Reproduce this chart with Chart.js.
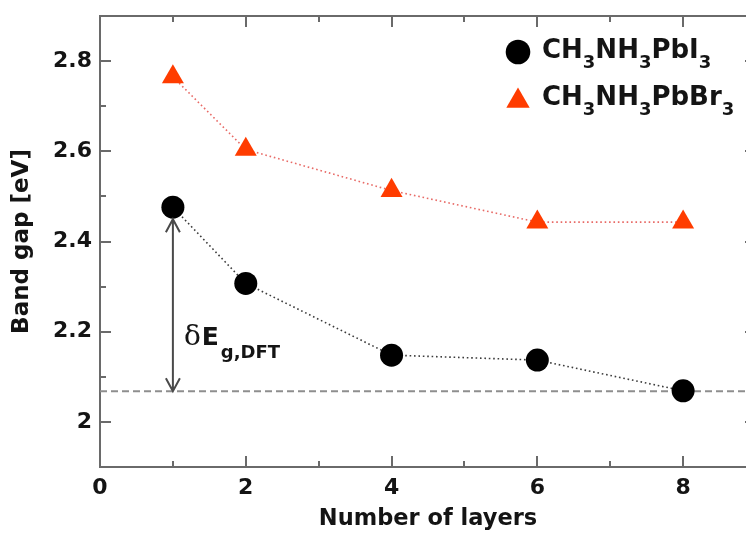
<!DOCTYPE html>
<html><head><meta charset="utf-8">
<script src="https://cdn.jsdelivr.net/npm/chart.js@4.4.1/dist/chart.umd.min.js"></script>
<style>
html,body{margin:0;padding:0;background:#fff;overflow:hidden;}
#wrap{position:relative;width:760px;height:535px;}
</style></head><body>
<div id="wrap"><canvas id="c" width="760" height="535"></canvas></div>
<script>
// ---- data ----
const layers = [1, 2, 4, 6, 8];
const gapPbI3 = [2.476, 2.307, 2.148, 2.137, 2.069];
const gapPbBr3 = [2.765, 2.604, 2.513, 2.443, 2.443];
const bulkSpan = [0, 9];
const bulkLevel = [2.068, 2.068];
const xTickLabels = ['0', '2', '4', '6', '8'];
const yTickLabels = ['2', '2.2', '2.4', '2.6', '2.8'];
const seriesNames = ['CH₃NH₃PbI₃', 'CH₃NH₃PbBr₃'];
const gapLabel = ['δ', 'E', 'g,DFT'];

// ---- styles ----
const FONT = '"DejaVu Sans", "Liberation Sans", Arial, sans-serif';
const axisColor = '#6a6a6a';
const textColor = '#141414';

const frameTicks = {
  id: 'frameTicks',
  beforeDatasetsDraw(chart) {
    const {ctx, chartArea: a, scales: {x, y}} = chart;
    ctx.save();
    ctx.strokeStyle = axisColor;
    ctx.lineWidth = 2;
    const seg = (x1, y1, x2, y2) => { ctx.beginPath(); ctx.moveTo(x1, y1); ctx.lineTo(x2, y2); ctx.stroke(); };
    x.ticks.forEach(t => {
      const p = Math.round(x.getPixelForValue(t.value));
      const L = t.label ? 11 : 6;
      seg(p, a.bottom, p, a.bottom - L);
      seg(p, a.top, p, a.top + L);
    });
    y.ticks.forEach(t => {
      const p = Math.round(y.getPixelForValue(t.value));
      const L = t.label ? 11 : 6;
      seg(a.left, p, a.left + L, p);
      seg(a.right, p, a.right - L, p);
    });
    ctx.restore();
  }
};

const gapArrow = {
  id: 'gapArrow',
  afterDatasetsDraw(chart) {
    const {ctx, scales: {x, y}} = chart;
    const r = chart.data.datasets[0].pointRadius;
    const xp = x.getPixelForValue(layers[0]);
    const yTop = y.getPixelForValue(gapPbI3[0]) + r + 0.5;
    const yBot = y.getPixelForValue(bulkLevel[0]);
    ctx.save();
    ctx.strokeStyle = '#4a4a4a';
    ctx.lineWidth = 2;
    ctx.beginPath();
    ctx.moveTo(xp, yTop); ctx.lineTo(xp, yBot);
    ctx.moveTo(xp - 7, yTop + 13); ctx.lineTo(xp, yTop); ctx.lineTo(xp + 7, yTop + 13);
    ctx.moveTo(xp - 7, yBot - 13); ctx.lineTo(xp, yBot); ctx.lineTo(xp + 7, yBot - 13);
    ctx.stroke();
    // label
    let tx = xp + 11;
    const base = yBot - 46;
    ctx.fillStyle = textColor;
    ctx.textBaseline = 'alphabetic';
    ctx.textAlign = 'left';
    ctx.font = '28px "DejaVu Serif", "Liberation Serif", serif';
    ctx.fillText(gapLabel[0], tx, base);
    tx += ctx.measureText(gapLabel[0]).width + 1;
    ctx.font = 'bold 25px ' + FONT;
    ctx.fillText(gapLabel[1], tx, base);
    tx += ctx.measureText(gapLabel[1]).width + 2;
    ctx.font = 'bold 18px ' + FONT;
    ctx.fillText(gapLabel[2], tx, base + 13);
    ctx.restore();
  }
};

const subLegend = {
  id: 'subLegend',
  afterDatasetsDraw(chart) {
    const {ctx, chartArea: a} = chart;
    const subs = '₀₁₂₃₄₅₆₇₈₉';
    const rows = [0, 1];
    ctx.save();
    rows.forEach((di, k) => {
      const ds = chart.data.datasets[di];
      const base = a.top + 42 + k * 47;
      const mx = a.left + 418;
      ctx.fillStyle = ds.pointBackgroundColor;
      const my = ds.pointStyle === 'triangle' ? base - 4 : base - 6;
      Chart.helpers.drawPoint(ctx, {pointStyle: ds.pointStyle, radius: ds.pointRadius + 0.8, rotation: 0, borderWidth: 0}, mx, my);
      let tx = a.left + 442;
      ctx.fillStyle = textColor;
      ctx.textAlign = 'left';
      ctx.textBaseline = 'alphabetic';
      for (const ch of ds.label) {
        const si = subs.indexOf(ch);
        if (si >= 0) {
          ctx.font = 'bold 18px ' + FONT;
          ctx.fillText(String(si), tx, base + 10);
          tx += ctx.measureText(String(si)).width;
        } else {
          ctx.font = 'bold 26px ' + FONT;
          ctx.fillText(ch, tx, base);
          tx += ctx.measureText(ch).width;
        }
      }
    });
    ctx.restore();
  }
};

const noPad = s => { s.paddingLeft = 0; s.paddingRight = 0; s.paddingTop = 0; s.paddingBottom = 0; };

new Chart(document.getElementById('c'), {
  type: 'scatter',
  data: {
    datasets: [
      {
        label: seriesNames[0],
        data: layers.map((l, i) => ({x: l, y: gapPbI3[i]})),
        showLine: true, tension: 0,
        borderColor: '#3c3c3c', borderWidth: 1.6, borderDash: [1.6, 2.8],
        pointStyle: 'circle', pointRadius: 11.5, pointHoverRadius: 11.5,
        pointBackgroundColor: '#000000', pointBorderColor: '#000000', pointBorderWidth: 0
      },
      {
        label: seriesNames[1],
        data: layers.map((l, i) => ({x: l, y: gapPbBr3[i]})),
        showLine: true, tension: 0,
        borderColor: '#e86a66', borderWidth: 1.6, borderDash: [1.6, 2.8],
        pointStyle: 'triangle', pointRadius: 12.7, pointHoverRadius: 12.7,
        pointBackgroundColor: '#ff3c00', pointBorderColor: '#ff3c00', pointBorderWidth: 0
      },
      {
        label: 'bulk',
        data: bulkSpan.map((v, i) => ({x: v, y: bulkLevel[i]})),
        showLine: true, tension: 0,
        borderColor: '#8e8e8e', borderWidth: 2, borderDash: [7, 4],
        pointRadius: 0, pointHoverRadius: 0
      }
    ]
  },
  options: {
    responsive: false,
    animation: false,
    events: [],
    layout: {autoPadding: false, padding: {top: 16, right: 4, left: 0, bottom: 0}},
    plugins: {legend: {display: false}, tooltip: {enabled: false}},
    scales: {
      x: {
        type: 'linear', position: 'bottom', min: 0, max: 9,
        afterFit(s) { s.height = 68; noPad(s); },
        grid: {display: false, drawTicks: false},
        border: {display: true, color: axisColor, width: 2},
        ticks: {
          stepSize: 1, autoSkip: false, maxRotation: 0, padding: 8,
          color: textColor, font: {family: FONT, size: 22, weight: 'bold'},
          callback: v => xTickLabels.includes(String(v)) ? String(v) : ''
        },
        title: {display: true, text: 'Number of layers', color: textColor,
          font: {family: FONT, size: 22.5, weight: 'bold'}, padding: {top: 0, bottom: 2}}
      },
      y: {
        type: 'linear', position: 'left', min: 1.9, max: 2.9,
        afterFit(s) { s.width = 100; noPad(s); },
        grid: {display: false, drawTicks: false},
        border: {display: true, color: axisColor, width: 2},
        ticks: {
          stepSize: 0.1, autoSkip: false, padding: 8,
          color: textColor, font: {family: FONT, size: 22, weight: 'bold'},
          callback: v => { const s = String(Math.round(v * 10) / 10); return yTickLabels.includes(s) ? s : ''; }
        },
        title: {display: true, text: 'Band gap [eV]', color: textColor,
          font: {family: FONT, size: 23, weight: 'bold'}, padding: {top: 8, bottom: 0}}
      },
      x2: {
        type: 'linear', position: 'top', min: 0, max: 9,
        afterFit: noPad,
        grid: {display: false, drawTicks: false},
        border: {display: true, color: axisColor, width: 2},
        ticks: {display: false}
      },
      y2: {
        type: 'linear', position: 'right', min: 1.9, max: 2.9,
        afterFit: noPad,
        grid: {display: false, drawTicks: false},
        border: {display: false},
        ticks: {display: false}
      }
    }
  },
  plugins: [frameTicks, gapArrow, subLegend]
});
</script>
</body></html>
